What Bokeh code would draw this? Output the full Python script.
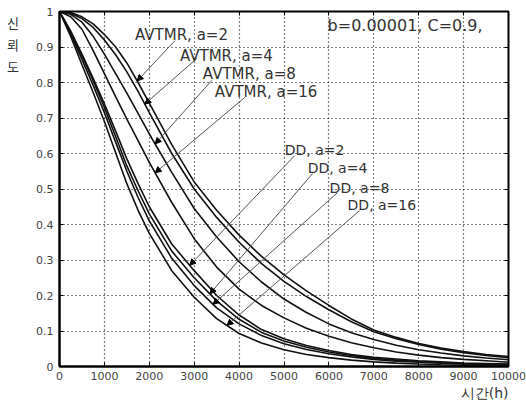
import numpy as np
from bokeh.plotting import figure
from bokeh.models import (Range1d, LinearAxis, FixedTicker, Label, Arrow, NormalHead,
                          CustomJSTickFormatter, Title)
from bokeh.embed import file_html
from bokeh.resources import INLINE

# ---------------- data ----------------
hours = [0, 250, 500, 750, 1000, 1250, 1500, 1750, 2000, 2500, 3000, 3500, 4000, 4500, 5000,
         5500, 6000, 6500, 7000, 7500, 8000, 8500, 9000, 9500, 10000]

avtmr_a2 = [1.0, 0.997, 0.985, 0.965, 0.935, 0.90, 0.855, 0.80, 0.742, 0.625, 0.52, 0.44, 0.37,
            0.31, 0.258, 0.213, 0.172, 0.134, 0.103, 0.082, 0.065, 0.052, 0.042, 0.034, 0.028]
avtmr_a4 = [1.0, 0.995, 0.98, 0.955, 0.92, 0.878, 0.83, 0.775, 0.715, 0.60, 0.50, 0.42, 0.35,
            0.29, 0.24, 0.197, 0.16, 0.126, 0.098, 0.078, 0.062, 0.049, 0.039, 0.031, 0.025]
avtmr_a8 = [1.0, 0.992, 0.97, 0.93, 0.88, 0.825, 0.77, 0.713, 0.655, 0.547, 0.445, 0.365, 0.295,
            0.238, 0.19, 0.152, 0.12, 0.095, 0.076, 0.060, 0.047, 0.038, 0.030, 0.024, 0.019]
avtmr_a16 = [1.0, 0.985, 0.95, 0.89, 0.825, 0.76, 0.697, 0.636, 0.575, 0.462, 0.36, 0.28, 0.218,
             0.172, 0.137, 0.108, 0.085, 0.067, 0.053, 0.041, 0.032, 0.025, 0.020, 0.016, 0.012]

dd_a2 = [1.0, 0.945, 0.88, 0.812, 0.74, 0.663, 0.585, 0.515, 0.45, 0.345, 0.27, 0.20, 0.145,
         0.104, 0.078, 0.059, 0.045, 0.034, 0.026, 0.021, 0.016, 0.013, 0.010, 0.0085, 0.007]
dd_a4 = [1.0, 0.94, 0.875, 0.805, 0.73, 0.648, 0.565, 0.495, 0.43, 0.325, 0.25, 0.185, 0.133,
         0.096, 0.072, 0.054, 0.041, 0.031, 0.023, 0.018, 0.014, 0.011, 0.0085, 0.007, 0.0055]
dd_a8 = [1.0, 0.936, 0.865, 0.792, 0.715, 0.632, 0.55, 0.476, 0.41, 0.305, 0.228, 0.165, 0.12,
         0.087, 0.064, 0.048, 0.036, 0.027, 0.020, 0.015, 0.012, 0.009, 0.007, 0.0055, 0.0045]
dd_a16 = [1.0, 0.93, 0.85, 0.772, 0.69, 0.602, 0.515, 0.44, 0.375, 0.27, 0.195, 0.135, 0.093,
          0.066, 0.047, 0.034, 0.025, 0.018, 0.013, 0.0095, 0.007, 0.005, 0.004, 0.003, 0.0025]

series_names = ["AVTMR, a=2", "AVTMR, a=4", "AVTMR, a=8", "AVTMR, a=16",
                "DD, a=2", "DD, a=4", "DD, a=8", "DD, a=16"]
series_values = [avtmr_a2, avtmr_a4, avtmr_a8, avtmr_a16, dd_a2, dd_a4, dd_a8, dd_a16]

x_ticks = [0, 1000, 2000, 3000, 4000, 5000, 6000, 7000, 8000, 9000, 10000]
x_tick_labels = ["0", "1000", "2000", "3000", "4000", "5000", "6000", "7000", "8000", "9000", "10000"]
y_ticks = [0, 0.1, 0.2, 0.3, 0.4, 0.5, 0.6, 0.7, 0.8, 0.9, 1]
y_tick_labels = ["0", "0.1", "0.2", "0.3", "0.4", "0.5", "0.6", "0.7", "0.8", "0.9", "1"]

x_title = "시간(h)"
y_title = "\n\n\n신\n뢰\n도"
param_text = "b=0.00001, C=0.9,"

# ---------------- annotation layout ----------------
label_pos = [(1682, 0.935, "15px"), (2682, 0.876, "15px"), (3193, 0.825, "15px"), (3460, 0.772, "15px"),
             (5016, 0.611, "14px"), (5527, 0.558, "14px"), (6016, 0.504, "14px"), (6416, 0.456, "14px")]
arrow_start = [(2571, 0.918), (3060, 0.868), (3393, 0.806), (4127, 0.758),
               (5238, 0.594), (5638, 0.544), (6193, 0.490), (6682, 0.439)]
arrow_tip_hour = [1730, 1900, 2130, 2130, 2900, 3350, 3420, 3730]

# ---------------- figure ----------------
p = figure(width=526, height=401, x_range=Range1d(0, 10000), y_range=Range1d(0, 1),
           output_backend="svg", toolbar_location=None,
           min_border_left=59, min_border_right=18, min_border_top=11, min_border_bottom=35,
           background_fill_color="white", border_fill_color="white")

p.outline_line_color = "black"
p.outline_line_width = 2

tick_font = "DejaVu Sans"
p.xaxis.ticker = FixedTicker(ticks=x_ticks)
p.xaxis.major_label_overrides = dict(zip(x_ticks, x_tick_labels))
p.yaxis.ticker = FixedTicker(ticks=y_ticks)
p.yaxis.major_label_overrides = dict(zip(y_ticks, y_tick_labels))
for ax in (p.xaxis[0], p.yaxis[0]):
    ax.major_tick_in = 4
    ax.major_tick_out = 0
    ax.minor_tick_line_color = None
    ax.axis_line_color = "black"
    ax.axis_line_width = 2
    ax.major_tick_line_color = "black"
    ax.major_label_text_font = tick_font
    ax.major_label_text_font_size = "11px"
    ax.major_label_text_color = "#444444"
p.xaxis.major_label_standoff = 5
p.yaxis.major_label_standoff = 6

p.yaxis.axis_label = y_title
p.yaxis.axis_label_text_font = "Noto Sans CJK KR"
p.yaxis.axis_label_text_font_style = "normal"
p.yaxis.axis_label_text_color = "#333333"
p.yaxis.axis_label_text_font_size = "13px"
p.yaxis.axis_label_orientation = "horizontal"
p.yaxis.axis_label_align = "end"
p.yaxis.axis_label_text_line_height = 1.15
p.yaxis.axis_label_standoff = 14

p.add_layout(Title(text=x_title, align="right", text_font="DejaVu Sans",
                   text_font_size="14px", text_font_style="normal", text_color="#333333",
                   text_line_height=0.8, standoff=0, offset=0), "below")

p.xgrid.ticker = FixedTicker(ticks=x_ticks)
p.ygrid.ticker = FixedTicker(ticks=y_ticks)
p.grid.grid_line_color = "black"
p.grid.grid_line_dash = "1 3"
p.grid.grid_line_width = 1.2

blank = CustomJSTickFormatter(code="return ''")
ax_r = LinearAxis(ticker=FixedTicker(ticks=y_ticks), formatter=blank,
                  major_tick_in=4, major_tick_out=0, minor_tick_line_color=None,
                  major_label_standoff=0, axis_line_color="black")
p.add_layout(ax_r, "right")
ax_t = LinearAxis(ticker=FixedTicker(ticks=x_ticks), formatter=blank,
                  major_tick_in=4, major_tick_out=0, minor_tick_line_color=None,
                  major_label_standoff=0, axis_line_color="black")
p.add_layout(ax_t, "above")

# curves
for vals in series_values:
    p.line(hours, vals, line_color="#111111", line_width=1.6)

# labels + arrows
for name, vals, (lx, ly, fs), (sx, sy), th in zip(series_names, series_values, label_pos,
                                                   arrow_start, arrow_tip_hour):
    p.add_layout(Label(x=lx, y=ly, text=name, text_font="DejaVu Sans", text_font_size=fs,
                       text_color="#333333", text_align="left", text_baseline="middle"))
    ty = float(np.interp(th, hours, vals))
    p.add_layout(Arrow(x_start=sx, y_start=sy, x_end=th, y_end=ty,
                       line_color="#555555", line_width=1,
                       end=NormalHead(size=6, fill_color="black", line_color="black", line_width=1)))

p.add_layout(Label(x=5971, y=0.961, text=param_text, text_font="DejaVu Sans", text_font_size="16px",
                   text_color="#333333", text_align="left", text_baseline="middle"))

with open("out.html", "w") as f:
    f.write(file_html(p, INLINE))
